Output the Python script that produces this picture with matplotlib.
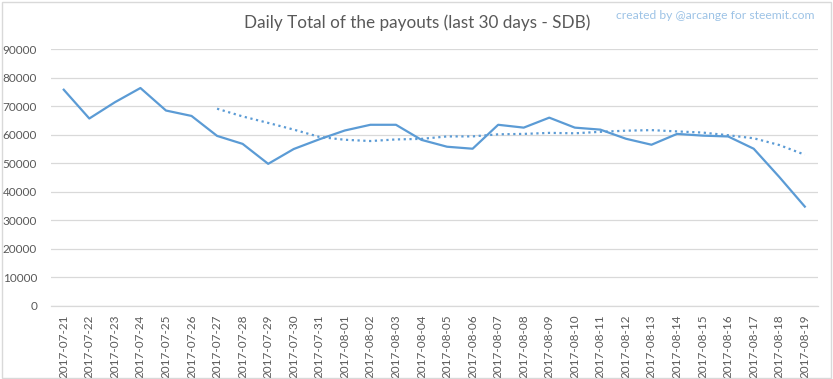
import matplotlib.pyplot as plt
import numpy as np

dates = [
    "2017-07-21", "2017-07-22", "2017-07-23", "2017-07-24", "2017-07-25",
    "2017-07-26", "2017-07-27", "2017-07-28", "2017-07-29", "2017-07-30",
    "2017-07-31", "2017-08-01", "2017-08-02", "2017-08-03", "2017-08-04",
    "2017-08-05", "2017-08-06", "2017-08-07", "2017-08-08", "2017-08-09",
    "2017-08-10", "2017-08-11", "2017-08-12", "2017-08-13", "2017-08-14",
    "2017-08-15", "2017-08-16", "2017-08-17", "2017-08-18", "2017-08-19",
]
payouts = [
    75800, 65700, 71400, 76400, 68500, 66600, 59600, 56800, 49800, 55000,
    58400, 61500, 63500, 63500, 58200, 55800, 55100, 63500, 62500, 66000,
    62500, 61800, 58600, 56500, 60300, 59700, 59400, 55100, 45200, 34800,
]
yticks = [0, 10000, 20000, 30000, 40000, 50000, 60000, 70000, 80000, 90000]

ma_period = 7
blue = "#5B9BD5"
grey_text = "#595959"

plt.rcParams["font.family"] = ["Lato", "DejaVu Sans"]

fig = plt.figure(figsize=(8.33, 3.79), dpi=100)
ax = fig.add_axes([0.0612, 0.1931, 0.9203, 0.677])

x = np.arange(len(dates))
ax.plot(x, payouts, color=blue, linewidth=1.6, solid_joinstyle="round")

# Excel-style moving average trendline
ma = np.convolve(payouts, np.ones(ma_period) / ma_period, mode="valid")
ax.plot(x[ma_period - 1:], ma, color=blue, linewidth=1.6, linestyle=(0, (1, 1.6)))

ax.set_xlim(-0.5, len(dates) - 0.5)
ax.set_ylim(0, 90000)
ax.set_yticks(yticks)
ax.set_yticklabels([str(v) for v in yticks], fontsize=8.5, color=grey_text)
ax.set_xticks(x)
ax.set_xticklabels(dates, rotation=90, fontsize=8.5, color=grey_text)
ax.tick_params(length=0)
ax.tick_params(axis="y", pad=10)
ax.tick_params(axis="x", pad=6)

ax.grid(axis="y", color="#D9D9D9", linewidth=0.9)
ax.set_axisbelow(True)
for side in ["top", "right", "left"]:
    ax.spines[side].set_visible(False)
ax.spines["bottom"].set_color("#D9D9D9")
ax.spines["bottom"].set_linewidth(0.9)

fig.text(0.501, 0.94, "Daily Total of the payouts (last 30 days - SDB)",
         ha="center", va="center", fontsize=12.3, color=grey_text)
fig.text(0.978, 0.96, "created by @arcange for steemit.com",
         ha="right", va="center", fontsize=8.7, color="#9DC3E6")

# chart border
fig.patches.append(plt.Rectangle((0.002, 0.003), 0.995, 0.993, transform=fig.transFigure,
                                 fill=False, edgecolor="#D9D9D9", linewidth=1.0))

fig.savefig("out.png", dpi=100)
